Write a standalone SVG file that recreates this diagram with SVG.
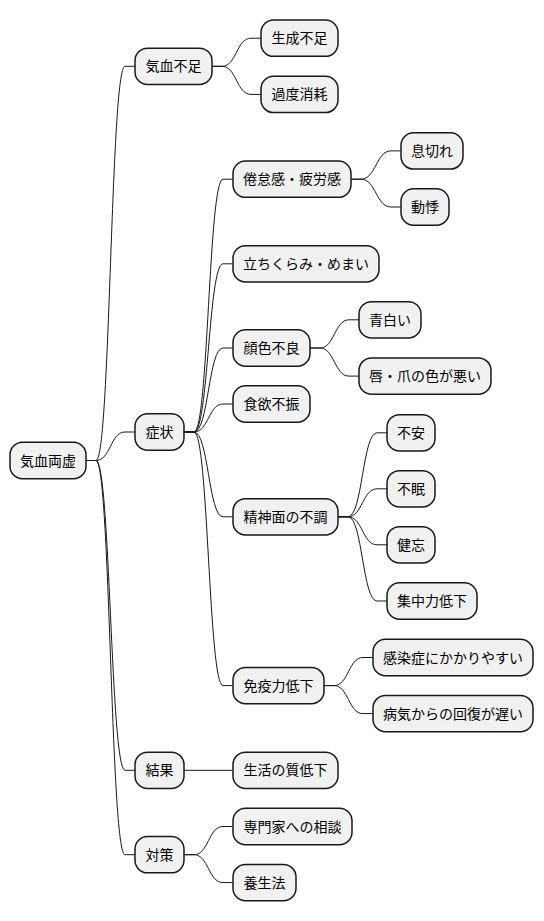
<svg xmlns="http://www.w3.org/2000/svg" width="544" height="921" viewBox="0 0 544 921">
<style>
.n rect{fill:#F1F1F1;stroke:#181818;stroke-width:1.5}
.n text{font-family:"Noto Sans CJK JP","Noto Sans CJK SC",sans-serif;font-size:14px;fill:#000000;text-anchor:middle}
.c path{fill:none;stroke:#181818;stroke-width:1}
</style>
<rect width="544" height="921" fill="#FFFFFF"/>
<g class="c" id="connectors">
<!-- root -> L1 (86 -> 135) -->
<path d="M86,460.5 L96,460.5 C110.5,460.5 110.5,66.3 125,66.3 L135,66.3"/>
<path d="M86,460.5 L96,460.5 C110.5,460.5 110.5,432 125,432 L135,432"/>
<path d="M86,460.5 L96,460.5 C110.5,460.5 110.5,770.3 125,770.3 L135,770.3"/>
<path d="M86,460.5 L96,460.5 C110.5,460.5 110.5,854.7 125,854.7 L135,854.7"/>
<!-- 気血不足 -> (212 -> 261) -->
<path d="M212,66.3 L222,66.3 C236.5,66.3 236.5,38.2 251,38.2 L261,38.2"/>
<path d="M212,66.3 L222,66.3 C236.5,66.3 236.5,94.4 251,94.4 L261,94.4"/>
<!-- 症状 -> (184 -> 233) -->
<path d="M184,432 L194,432 C208.5,432 208.5,179.2 223,179.2 L233,179.2"/>
<path d="M184,432 L194,432 C208.5,432 208.5,263.8 223,263.8 L233,263.8"/>
<path d="M184,432 L194,432 C208.5,432 208.5,348 223,348 L233,348"/>
<path d="M184,432 L194,432 C208.5,432 208.5,404 223,404 L233,404"/>
<path d="M184,432 L194,432 C208.5,432 208.5,516.8 223,516.8 L233,516.8"/>
<path d="M184,432 L194,432 C208.5,432 208.5,685.6 223,685.6 L233,685.6"/>
<!-- 結果 -->
<path d="M184,770.3 L233,770.3"/>
<!-- 対策 -->
<path d="M184,854.7 L194,854.7 C208.5,854.7 208.5,826.5 223,826.5 L233,826.5"/>
<path d="M184,854.7 L194,854.7 C208.5,854.7 208.5,882.6 223,882.6 L233,882.6"/>
<!-- 倦怠感 (351 -> 401) -->
<path d="M351,179.2 L361,179.2 C376,179.2 376,150.9 391,150.9 L401,150.9"/>
<path d="M351,179.2 L361,179.2 C376,179.2 376,207 391,207 L401,207"/>
<!-- 顔色不良 (310 -> 359) -->
<path d="M310,348 L320,348 C334.5,348 334.5,319.8 349,319.8 L359,319.8"/>
<path d="M310,348 L320,348 C334.5,348 334.5,376.1 349,376.1 L359,376.1"/>
<!-- 精神面の不調 (338 -> 387) -->
<path d="M338,516.8 L348,516.8 C362.5,516.8 362.5,432.8 377,432.8 L387,432.8"/>
<path d="M338,516.8 L348,516.8 C362.5,516.8 362.5,488.8 377,488.8 L387,488.8"/>
<path d="M338,516.8 L348,516.8 C362.5,516.8 362.5,544.8 377,544.8 L387,544.8"/>
<path d="M338,516.8 L348,516.8 C362.5,516.8 362.5,601 377,601 L387,601"/>
<!-- 免疫力低下 (324 -> 373) -->
<path d="M324,685.6 L334,685.6 C348.5,685.6 348.5,657.5 363,657.5 L373,657.5"/>
<path d="M324,685.6 L334,685.6 C348.5,685.6 348.5,713.6 363,713.6 L373,713.6"/>
</g>
<g class="n" id="root"><rect x="10" y="442.35" width="76" height="36.3" rx="12.5"/><text x="48" y="465.5">気血両虚</text></g>
<g class="n" id="n1"><rect x="135" y="48.15" width="77" height="36.3" rx="12.5"/><text x="173.5" y="71.3">気血不足</text></g>
<g class="n" id="n1a"><rect x="261" y="20.05" width="77" height="36.3" rx="12.5"/><text x="299.5" y="43.2">生成不足</text></g>
<g class="n" id="n1b"><rect x="261" y="76.25" width="77" height="36.3" rx="12.5"/><text x="299.5" y="99.4">過度消耗</text></g>
<g class="n" id="n2"><rect x="135" y="413.85" width="49" height="36.3" rx="12.5"/><text x="159.5" y="437">症状</text></g>
<g class="n" id="n2a"><rect x="233" y="161.05" width="118" height="36.3" rx="12.5"/><text x="292" y="184.2">倦怠感・疲労感</text></g>
<g class="n" id="n2a1"><rect x="401" y="132.75" width="62" height="36.3" rx="12.5"/><text x="432" y="155.9">息切れ</text></g>
<g class="n" id="n2a2"><rect x="401" y="188.85" width="48" height="36.3" rx="12.5"/><text x="425" y="212">動悸</text></g>
<g class="n" id="n2b"><rect x="233" y="245.65" width="146" height="36.3" rx="12.5"/><text x="306" y="268.8">立ちくらみ・めまい</text></g>
<g class="n" id="n2c"><rect x="233" y="329.85" width="77" height="36.3" rx="12.5"/><text x="271.5" y="353">顔色不良</text></g>
<g class="n" id="n2c1"><rect x="359" y="301.65" width="62" height="36.3" rx="12.5"/><text x="390" y="324.8">青白い</text></g>
<g class="n" id="n2c2"><rect x="359" y="357.95" width="132" height="36.3" rx="12.5"/><text x="425" y="381.1">唇・爪の色が悪い</text></g>
<g class="n" id="n2d"><rect x="233" y="385.85" width="77" height="36.3" rx="12.5"/><text x="271.5" y="409">食欲不振</text></g>
<g class="n" id="n2e"><rect x="233" y="498.65" width="105" height="36.3" rx="12.5"/><text x="285.5" y="521.8">精神面の不調</text></g>
<g class="n" id="n2e1"><rect x="387" y="414.65" width="48" height="36.3" rx="12.5"/><text x="411" y="437.8">不安</text></g>
<g class="n" id="n2e2"><rect x="387" y="470.65" width="48" height="36.3" rx="12.5"/><text x="411" y="493.8">不眠</text></g>
<g class="n" id="n2e3"><rect x="387" y="526.65" width="48" height="36.3" rx="12.5"/><text x="411" y="549.8">健忘</text></g>
<g class="n" id="n2e4"><rect x="387" y="582.85" width="90" height="36.3" rx="12.5"/><text x="432" y="606">集中力低下</text></g>
<g class="n" id="n2f"><rect x="233" y="667.45" width="91" height="36.3" rx="12.5"/><text x="278.5" y="690.6">免疫力低下</text></g>
<g class="n" id="n2f1"><rect x="373" y="639.35" width="160" height="36.3" rx="12.5"/><text x="453" y="662.5">感染症にかかりやすい</text></g>
<g class="n" id="n2f2"><rect x="373" y="695.45" width="160" height="36.3" rx="12.5"/><text x="453" y="718.6">病気からの回復が遅い</text></g>
<g class="n" id="n3"><rect x="135" y="752.15" width="49" height="36.3" rx="12.5"/><text x="159.5" y="775.3">結果</text></g>
<g class="n" id="n3a"><rect x="233" y="752.15" width="105" height="36.3" rx="12.5"/><text x="285.5" y="775.3">生活の質低下</text></g>
<g class="n" id="n4"><rect x="135" y="836.55" width="49" height="36.3" rx="12.5"/><text x="159.5" y="859.7">対策</text></g>
<g class="n" id="n4a"><rect x="233" y="808.35" width="119" height="36.3" rx="12.5"/><text x="292.5" y="831.5">専門家への相談</text></g>
<g class="n" id="n4b"><rect x="233" y="864.45" width="63" height="36.3" rx="12.5"/><text x="264.5" y="887.6">養生法</text></g>
</svg>
